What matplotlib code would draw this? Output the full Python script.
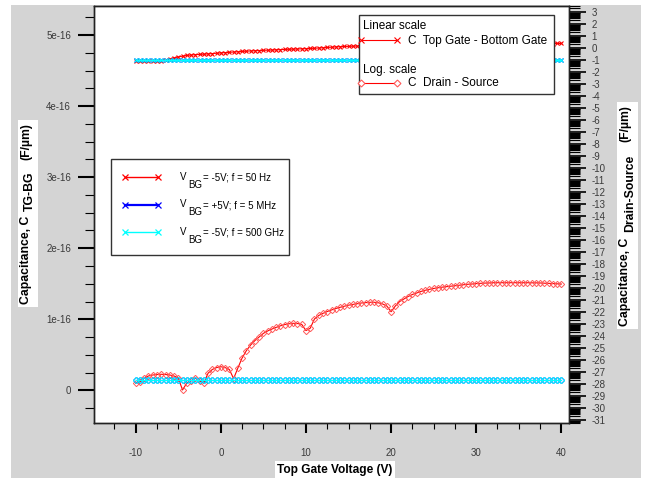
import numpy as np
import matplotlib
matplotlib.use('Agg')
import matplotlib.pyplot as plt
from matplotlib.lines import Line2D
from matplotlib.patches import Rectangle
from matplotlib.ticker import MultipleLocator, LogLocator, FuncFormatter, NullFormatter

plt.rcParams['font.family'] = ['Liberation Sans', 'DejaVu Sans']
plt.rcParams['axes.unicode_minus'] = False

# top gate sweep, 0.5 V step
vtg = np.arange(-10, 40.5, 0.5)

# C top gate - bottom gate, linear scale (units of 1e-16 F/um)
ctgbg_50hz = [
    4.640, 4.640, 4.640, 4.640, 4.640, 4.640, 4.640,
    4.650, 4.665, 4.680, 4.693, 4.704, 4.714, 4.720, 4.725, 4.729, 4.732, 4.736, 4.740, 4.745, 4.750,
    4.754, 4.758, 4.762, 4.766, 4.770, 4.774, 4.777, 4.780, 4.783, 4.786,
    4.788, 4.790, 4.793, 4.796, 4.799, 4.801, 4.803, 4.805, 4.807, 4.809,
    4.812, 4.815, 4.819, 4.822, 4.826, 4.830, 4.834, 4.837, 4.840, 4.842,
    4.844, 4.846, 4.848, 4.849, 4.851, 4.852, 4.853, 4.854, 4.855, 4.856,
    4.857, 4.858, 4.859, 4.860, 4.861, 4.862, 4.863, 4.864, 4.865, 4.866,
    4.867, 4.868, 4.868, 4.869, 4.870, 4.871, 4.871, 4.872, 4.873, 4.874,
    4.874, 4.875, 4.876, 4.876, 4.877, 4.877, 4.878, 4.878, 4.879, 4.879,
    4.880, 4.880, 4.881, 4.881, 4.881, 4.882, 4.882, 4.882, 4.883, 4.883,
]
ctgbg_5mhz = [
    4.645, 4.645, 4.645, 4.645, 4.645, 4.645, 4.645,
    4.645, 4.645, 4.645, 4.645, 4.645, 4.645, 4.645, 4.645, 4.645, 4.645, 4.645, 4.645, 4.645, 4.645,
    4.645, 4.645, 4.645, 4.645, 4.645, 4.645, 4.645, 4.645, 4.645, 4.645,
    4.645, 4.645, 4.645, 4.645, 4.645, 4.645, 4.645, 4.645, 4.645, 4.645,
    4.645, 4.645, 4.645, 4.645, 4.645, 4.645, 4.645, 4.645, 4.645, 4.645,
    4.645, 4.645, 4.645, 4.645, 4.645, 4.645, 4.645, 4.645, 4.645, 4.645,
    4.645, 4.645, 4.645, 4.645, 4.645, 4.645, 4.645, 4.645, 4.645, 4.645,
    4.645, 4.645, 4.645, 4.645, 4.645, 4.645, 4.645, 4.645, 4.645, 4.645,
    4.645, 4.645, 4.645, 4.645, 4.645, 4.645, 4.645, 4.645, 4.645, 4.645,
    4.645, 4.645, 4.645, 4.645, 4.645, 4.645, 4.645, 4.645, 4.645, 4.645,
]
ctgbg_500ghz = [
    4.645, 4.645, 4.645, 4.645, 4.645, 4.645, 4.645,
    4.645, 4.645, 4.645, 4.645, 4.645, 4.645, 4.645, 4.645, 4.645, 4.645, 4.645, 4.645, 4.645, 4.645,
    4.645, 4.645, 4.645, 4.645, 4.645, 4.645, 4.645, 4.645, 4.645, 4.645,
    4.645, 4.645, 4.645, 4.645, 4.645, 4.645, 4.645, 4.645, 4.645, 4.645,
    4.645, 4.645, 4.645, 4.645, 4.645, 4.645, 4.645, 4.645, 4.645, 4.645,
    4.645, 4.645, 4.645, 4.645, 4.645, 4.645, 4.645, 4.645, 4.645, 4.645,
    4.645, 4.645, 4.645, 4.645, 4.645, 4.645, 4.645, 4.645, 4.645, 4.645,
    4.645, 4.645, 4.645, 4.645, 4.645, 4.645, 4.645, 4.645, 4.645, 4.645,
    4.645, 4.645, 4.645, 4.645, 4.645, 4.645, 4.645, 4.645, 4.645, 4.645,
    4.645, 4.645, 4.645, 4.645, 4.645, 4.645, 4.645, 4.645, 4.645, 4.645,
]

# C drain - source, log scale (log10 of F/um)
lgcds_50hz = [
    -27.92, -27.83, -27.50, -27.33, -27.25, -27.21, -27.19, -27.21, -27.25, -27.33, -27.50,
    -28.50, -27.92, -27.75, -27.50, -27.75, -27.92, -27.10, -26.79, -26.63, -26.56,
    -26.63, -26.79, -27.55, -26.67, -25.83, -25.22, -24.75, -24.38, -24.08, -23.78,
    -23.58, -23.42, -23.28, -23.15, -23.05, -22.98, -22.94, -22.96, -23.03, -23.55,
    -23.35, -22.58, -22.29, -22.11, -21.96, -21.83, -21.71, -21.61, -21.52, -21.43,
    -21.37, -21.31, -21.25, -21.22, -21.19, -21.19, -21.23, -21.33, -21.50, -21.98,
    -21.50, -21.13, -20.92, -20.71, -20.54, -20.42, -20.29, -20.19, -20.11, -20.04,
    -19.98, -19.93, -19.89, -19.85, -19.81, -19.77, -19.73, -19.69, -19.67, -19.63,
    -19.61, -19.59, -19.58, -19.56, -19.56, -19.56, -19.56, -19.56, -19.56, -19.56,
    -19.56, -19.56, -19.57, -19.57, -19.58, -19.60, -19.61, -19.63, -19.65, -19.67,
]
lgcds_5mhz = [
    -27.67, -27.67, -27.67, -27.67, -27.67, -27.67, -27.67, -27.67, -27.67, -27.67, -27.67,
    -27.67, -27.67, -27.67, -27.67, -27.67, -27.67, -27.67, -27.67, -27.67, -27.67,
    -27.67, -27.67, -27.67, -27.67, -27.67, -27.67, -27.67, -27.67, -27.67, -27.67,
    -27.67, -27.67, -27.67, -27.67, -27.67, -27.67, -27.67, -27.67, -27.67, -27.67,
    -27.67, -27.67, -27.67, -27.67, -27.67, -27.67, -27.67, -27.67, -27.67, -27.67,
    -27.67, -27.67, -27.67, -27.67, -27.67, -27.67, -27.67, -27.67, -27.67, -27.67,
    -27.67, -27.67, -27.67, -27.67, -27.67, -27.67, -27.67, -27.67, -27.67, -27.67,
    -27.67, -27.67, -27.67, -27.67, -27.67, -27.67, -27.67, -27.67, -27.67, -27.67,
    -27.67, -27.67, -27.67, -27.67, -27.67, -27.67, -27.67, -27.67, -27.67, -27.67,
    -27.67, -27.67, -27.67, -27.67, -27.67, -27.67, -27.67, -27.67, -27.67, -27.67,
]
lgcds_500ghz = [
    -27.67, -27.67, -27.67, -27.67, -27.67, -27.67, -27.67, -27.67, -27.67, -27.67, -27.67,
    -27.67, -27.67, -27.67, -27.67, -27.67, -27.67, -27.67, -27.67, -27.67, -27.67,
    -27.67, -27.67, -27.67, -27.67, -27.67, -27.67, -27.67, -27.67, -27.67, -27.67,
    -27.67, -27.67, -27.67, -27.67, -27.67, -27.67, -27.67, -27.67, -27.67, -27.67,
    -27.67, -27.67, -27.67, -27.67, -27.67, -27.67, -27.67, -27.67, -27.67, -27.67,
    -27.67, -27.67, -27.67, -27.67, -27.67, -27.67, -27.67, -27.67, -27.67, -27.67,
    -27.67, -27.67, -27.67, -27.67, -27.67, -27.67, -27.67, -27.67, -27.67, -27.67,
    -27.67, -27.67, -27.67, -27.67, -27.67, -27.67, -27.67, -27.67, -27.67, -27.67,
    -27.67, -27.67, -27.67, -27.67, -27.67, -27.67, -27.67, -27.67, -27.67, -27.67,
    -27.67, -27.67, -27.67, -27.67, -27.67, -27.67, -27.67, -27.67, -27.67, -27.67,
]

series_colors = ['red', 'blue', 'cyan']
series_text = ['= -5V; f = 50 Hz', '= +5V; f = 5 MHz', '= -5V; f = 500 GHz']
yticks_left = [0, 1e-16, 2e-16, 3e-16, 4e-16, 5e-16]
yticklabels_left = ['0', '1e-16', '2e-16', '3e-16', '4e-16', '5e-16']

tick_col = '#3a3a3a'
W, H = 650, 478

fig = plt.figure(figsize=(6.5, 4.78), dpi=100)
fig.patch.set_facecolor('white')
fig.patches.append(Rectangle((11/W, 0), 630/W, 473/H, transform=fig.transFigure,
                             facecolor='#d4d4d4', edgecolor='none', zorder=-10))

ax = fig.add_axes([94/W, 55/H, 475/W, 417/H])
ax.set_facecolor('white')

ax.plot(vtg, np.array(ctgbg_50hz)*1e-16, color='red', lw=0.8, marker='x', ms=3.5, mew=0.8)
ax.plot(vtg, np.array(ctgbg_5mhz)*1e-16, color='blue', lw=0.8, marker='x', ms=3.5, mew=0.8)
ax.plot(vtg, np.array(ctgbg_500ghz)*1e-16, color='cyan', lw=0.8, marker='x', ms=3.5, mew=0.8)

ax.set_xlim(-14.9, 40.9)
ax.set_ylim(-0.46e-16, 5.41e-16)
ax.set_yticks(yticks_left)
ax.set_yticklabels(yticklabels_left)
ax.yaxis.set_minor_locator(MultipleLocator(0.25e-16))
ax.xaxis.set_major_locator(MultipleLocator(10))
ax.xaxis.set_minor_locator(MultipleLocator(2.5))
ax.tick_params(axis='y', which='major', direction='out', length=11.5, width=1.5, pad=5,
               labelsize=7, labelcolor=tick_col)
ax.tick_params(axis='y', which='minor', direction='out', length=6.5, width=0.8)
ax.tick_params(axis='x', which='major', direction='out', length=7, width=1.5, pad=11,
               labelsize=7, labelcolor=tick_col)
ax.tick_params(axis='x', which='minor', direction='out', length=4.5, width=0.8)
for s in ax.spines.values():
    s.set_linewidth(1.0)
    s.set_color('#222222')

# drain-source capacitance on log axis at right
ax2 = ax.twinx()
ax2.set_yscale('log')
ax2.plot(vtg, np.power(10.0, lgcds_50hz), color='red', lw=0.8, marker='D', ms=3.2,
         mfc='none', mec='#ff5a5a', mew=0.7)
ax2.plot(vtg, np.power(10.0, lgcds_5mhz), color='blue', lw=0.8, marker='D', ms=3.2,
         mfc='none', mew=0.7)
ax2.plot(vtg, np.power(10.0, lgcds_500ghz), color='cyan', lw=0.8, marker='D', ms=3.2,
         mfc='none', mew=0.7)
ax2.set_ylim(10**-31.25, 10**3.5)
ax2.yaxis.set_major_locator(LogLocator(base=10, numticks=100))
ax2.yaxis.set_major_formatter(FuncFormatter(lambda v, p: '%d' % int(round(np.log10(v)))))
ax2.yaxis.set_minor_locator(LogLocator(base=10, subs=np.arange(2, 10) * 1.0, numticks=1000))
ax2.yaxis.set_minor_formatter(NullFormatter())
ax2.tick_params(axis='y', which='major', direction='out', length=12, width=1.2, pad=4,
                labelsize=7, labelcolor=tick_col)
ax2.tick_params(axis='y', which='minor', direction='out', length=8, width=0.8)
for s in ax2.spines.values():
    s.set_linewidth(1.0)
    s.set_color('#222222')


def ax_xy(px, py):
    # pixel position (from top-left) -> axes fraction
    return (px - 94) / 475, (423 - py) / 417


# legend for the three bias / frequency settings (V with BG written below)
x0, y0 = ax_xy(111, 255)
x1, y1 = ax_xy(289, 159)
ax2.add_artist(Rectangle((x0, y0), x1 - x0, y1 - y0, transform=ax2.transAxes,
                         facecolor='white', edgecolor='#333333', lw=1.0, zorder=10))
for i, (col, txt) in enumerate(zip(series_colors, series_text)):
    yh = 177 + 27.5 * i
    xa, ya = ax_xy(125, yh)
    xb, _ = ax_xy(158, yh)
    ax2.add_artist(Line2D([xa, xb], [ya, ya], transform=ax2.transAxes, color=col,
                          lw=1.0 if col != 'blue' else 1.6, marker='x', ms=5, mew=0.9,
                          zorder=11))
    xv, yv = ax_xy(180, yh + 2.5)
    ax2.text(xv, yv, 'V', transform=ax2.transAxes, fontsize=7.0, ha='left',
             va='baseline', zorder=12)
    xs, ys = ax_xy(188, yh + 10.5)
    ax2.text(xs, ys, 'BG', transform=ax2.transAxes, fontsize=7.0, ha='left',
             va='baseline', zorder=12)
    xt, yt = ax_xy(203, yh + 3.5)
    ax2.text(xt, yt, txt, transform=ax2.transAxes, fontsize=7.0, ha='left',
             va='baseline', zorder=12)

# scale legend, top right
box = Rectangle((0.558, 0.789), 0.41, 0.189, transform=ax2.transAxes, facecolor='white',
                edgecolor='#333333', lw=1.0, zorder=10)
ax2.add_artist(box)
ax2.text(0.566, 0.953, 'Linear scale', transform=ax2.transAxes, fontsize=8.5,
         va='center', ha='left', zorder=11)
ax2.add_artist(Line2D([0.563, 0.637], [0.918, 0.918], transform=ax2.transAxes, color='red',
                      lw=0.8, marker='x', ms=5, mew=0.8, zorder=11))
ax2.text(0.661, 0.916, 'C  Top Gate - Bottom Gate', transform=ax2.transAxes, fontsize=8.5,
         va='center', ha='left', zorder=11)
ax2.text(0.566, 0.847, 'Log. scale', transform=ax2.transAxes, fontsize=8.5,
         va='center', ha='left', zorder=11)
ax2.add_artist(Line2D([0.563, 0.637], [0.815, 0.815], transform=ax2.transAxes, color='red',
                      lw=0.8, marker='D', ms=3.5, mfc='white', mec='#ff5a5a', mew=0.8, zorder=11))
ax2.text(0.661, 0.815, 'C  Drain - Source', transform=ax2.transAxes, fontsize=8.5,
         va='center', ha='left', zorder=11)

fig.text(335/W, 1 - 470/H, 'Top Gate Voltage (V)', fontsize=8.6, fontweight='bold',
         ha='center', va='center', bbox=dict(facecolor='white', edgecolor='none', pad=2),
         zorder=3)

# vertical axis titles, subscript written full size and shifted sideways
renderer = fig.canvas.get_renderer()


def vlabel(x_px, y_start_px, parts):
    y = H - y_start_px
    boxes = []
    for s, dx, gap in parts:
        y += gap
        t = fig.text((x_px + dx) / W, y / H, s, rotation=90, ha='center', va='bottom',
                     fontsize=8.8, fontweight='bold', zorder=3)
        bb = t.get_window_extent(renderer)
        boxes.append(bb)
        y = bb.y1
    xa = min(b.x0 for b in boxes) - 2
    xb = max(b.x1 for b in boxes) + 2
    ya = min(b.y0 for b in boxes) - 3
    yb = max(b.y1 for b in boxes) + 3
    fig.patches.append(Rectangle((xa / W, ya / H), (xb - xa) / W, (yb - ya) / H,
                                 transform=fig.transFigure, facecolor='white',
                                 edgecolor='none', zorder=1))


vlabel(26, 304, [('Capacitance, C', 0, 0), ('TG-BG', 4, 5), ('(F/µm)', 0, 11)])
vlabel(625, 326, [('Capacitance, C', 0, 0), ('Drain-Source', 5, 6), ('(F/µm)', 0, 12)])

fig.savefig('out.png', dpi=100, facecolor=fig.get_facecolor())
